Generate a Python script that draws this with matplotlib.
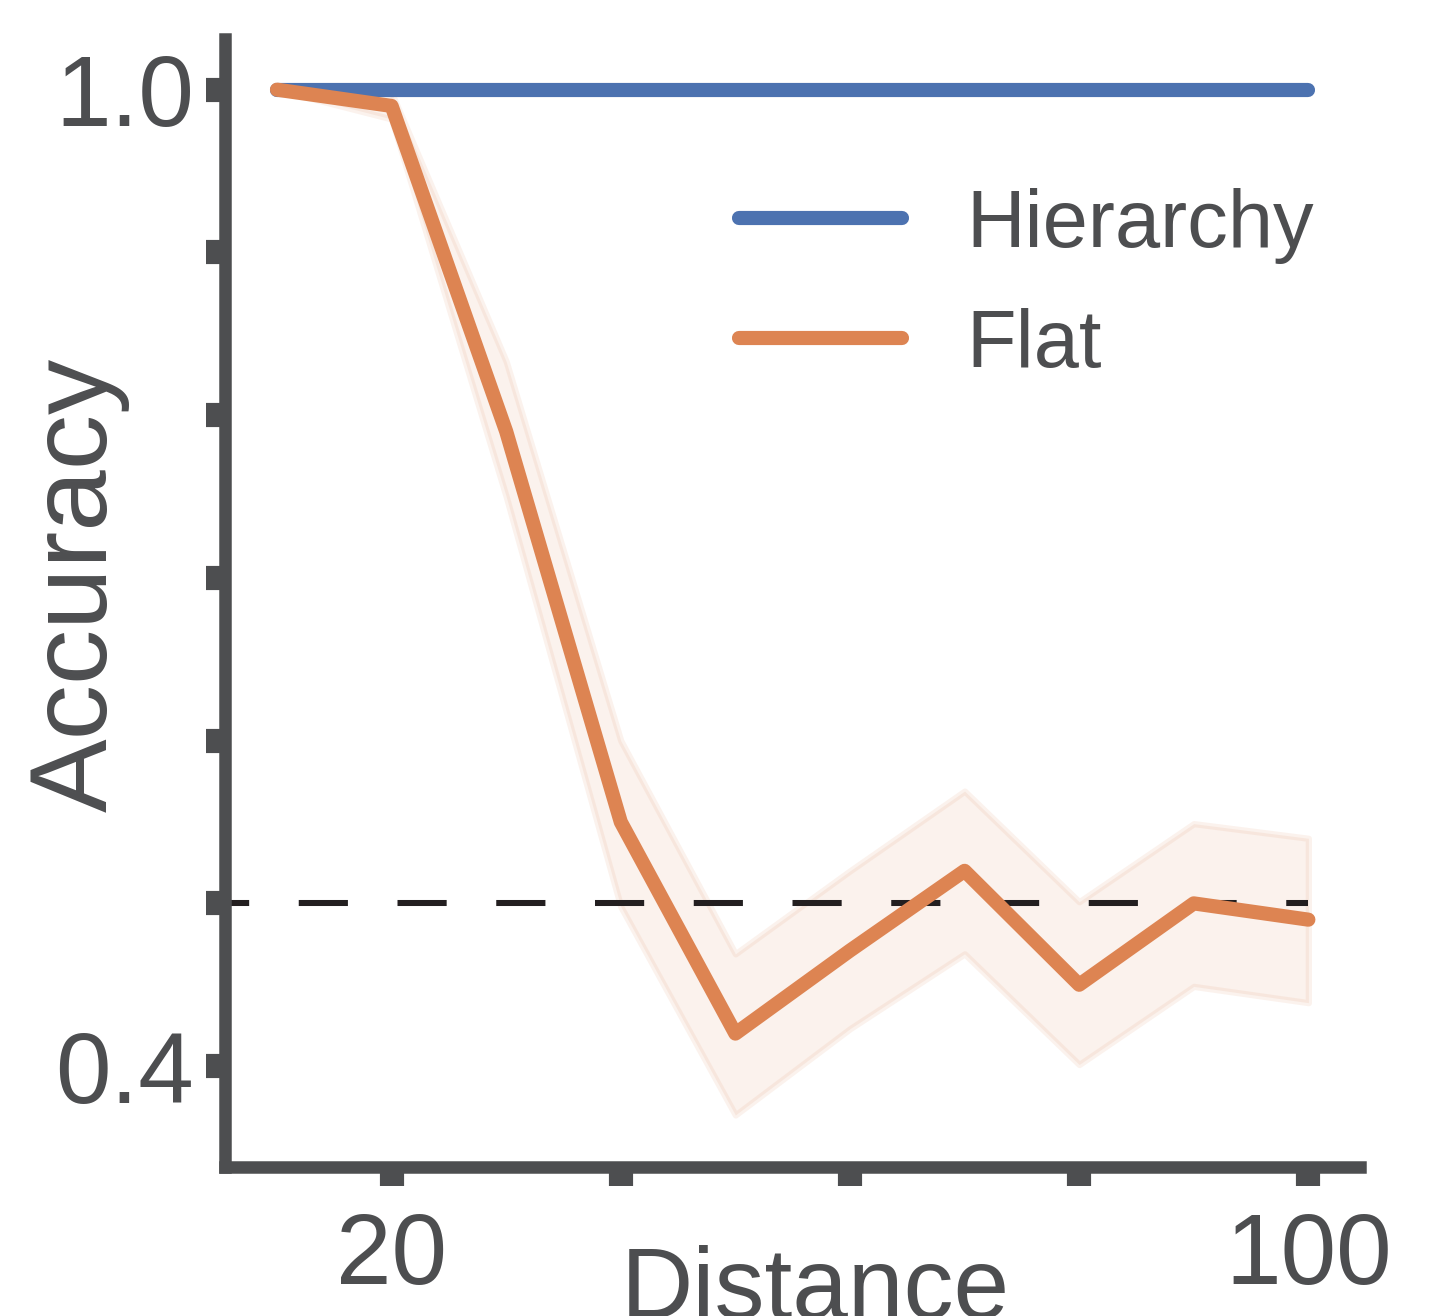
import numpy as np
import matplotlib
matplotlib.use("Agg")
import matplotlib.pyplot as plt

# data
distance = [10, 20, 30, 40, 50, 60, 70, 80, 90, 100]
hierarchy = [1.0, 1.0, 1.0, 1.0, 1.0, 1.0, 1.0, 1.0, 1.0, 1.0]
flat = [1.0, 0.990, 0.790, 0.550, 0.420, 0.471, 0.520, 0.450, 0.500, 0.490]
flat_lo = [1.0, 0.982, 0.750, 0.498, 0.370, 0.423, 0.469, 0.401, 0.449, 0.439]
flat_hi = [1.0, 0.998, 0.833, 0.600, 0.469, 0.520, 0.569, 0.501, 0.549, 0.540]
chance = 0.5

xticks = [20, 40, 60, 80, 100]
xticklabels = ["20", "", "", "", "100"]
yticks = [0.4, 0.5, 0.6, 0.7, 0.8, 0.9, 1.0]
yticklabels = ["0.4", "", "", "", "", "", "1.0"]

grey = "#4d4e50"
blue = "#4c72b0"
orange = "#dd8452"

plt.rcParams["font.family"] = ["Liberation Sans", "DejaVu Sans"]
plt.rcParams["lines.scale_dashes"] = False

fig = plt.figure(figsize=(1430 / 300, 1316 / 300), dpi=300)
ax = fig.add_axes([0.157, 0.1132, 0.794, 0.857])

ax.fill_between(distance, flat_lo, flat_hi, color=orange, alpha=0.1,
                linewidth=1.5, edgecolor=orange)
ax.plot(distance, hierarchy, color=blue, lw=3.4, solid_capstyle="round",
        label="Hierarchy")
ax.plot(distance, flat, color=orange, lw=3.4, solid_capstyle="round",
        solid_joinstyle="round", label="Flat")
ax.plot([5.42, 100], [chance, chance], color="#231f20", lw=1.45,
        linestyle=(6, (11.8, 11.9)), zorder=1)

ax.set_xlim(5.42, 104.5)
ax.set_ylim(0.338, 1.031)
ax.set_xticks(xticks)
ax.set_xticklabels(xticklabels)
ax.set_yticks(yticks)
ax.set_yticklabels(yticklabels)

for s in ["top", "right"]:
    ax.spines[s].set_visible(False)
for s in ["left", "bottom"]:
    ax.spines[s].set_linewidth(3.0)
    ax.spines[s].set_color(grey)

ax.tick_params(axis="both", length=4.6, width=5.8, color=grey,
               labelcolor=grey, labelsize=24)
ax.tick_params(axis="x", pad=6)
ax.tick_params(axis="y", pad=2.7)

ax.set_xlabel("Distance", fontsize=24, color=grey, va="top")
ax.xaxis.set_label_coords(0.52, -0.069)
ax.set_ylabel("Accuracy", fontsize=26.5, color=grey)
ax.yaxis.set_label_coords(-0.083, 0.516)

leg = ax.legend(loc="upper right", bbox_to_anchor=(0.988, 0.897), frameon=False,
                fontsize=19.5, handlelength=2.0, handletextpad=0.79,
                labelspacing=0.54, borderaxespad=0)
for t in leg.get_texts():
    t.set_color(grey)

fig.savefig("out.png", dpi=300)
